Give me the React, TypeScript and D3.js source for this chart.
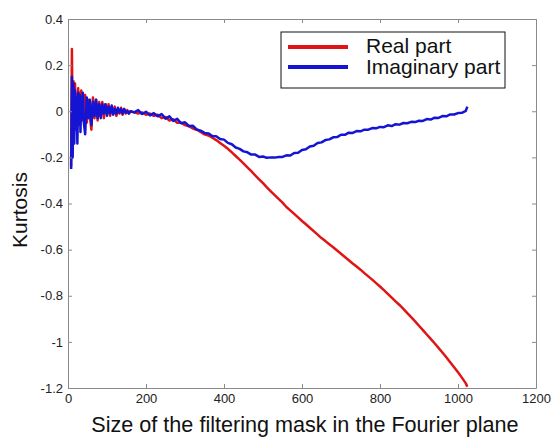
import React from "react";
import * as d3 from "d3";

// mask size (x) shared by both curves
const maskSizes = [
  8, 10, 12, 14, 16, 18, 20, 22, 24, 26, 28, 30, 32, 34, 36, 38, 40,
  44, 48, 52, 56, 60, 64, 68, 72, 76, 80, 84, 88, 92, 96, 100, 104, 108, 112, 116, 120,
  124, 128, 132, 136, 140, 144, 148, 152, 156, 160,
  170, 180, 190, 200, 210, 220, 230, 240, 250, 260, 270, 280, 290, 300, 310, 320, 330, 340,
  350, 360, 370, 380, 390, 400, 410, 420, 430, 440, 450, 460, 470, 480, 490, 500, 510, 520,
  530, 540, 550, 560, 570, 580, 590, 600, 610, 620, 630, 640, 650, 660, 670, 680, 690, 700,
  710, 720, 730, 740, 750, 760, 770, 780, 790, 800, 810, 820, 830, 840, 850, 860, 870, 880,
  890, 900, 910, 920, 930, 940, 950, 960, 970, 980, 990, 1000, 1010, 1020, 1024,
];

const realPart = [
  -0.24, 0.27, -0.1, 0.13, -0.05, 0.12, -0.08, 0.07, -0.03, 0.1, -0.06, 0.08, -0.02, 0.09, -0.04, 0.06, -0.03,
  0.07, -0.05, 0.05, -0.02, -0.08, 0.06, -0.03, 0.05, -0.04, 0.04, -0.02, 0.04, -0.03, 0.03, -0.01, 0.03, -0.02, 0.02, -0.01, 0.02,
  -0.02, 0.01, -0.01, 0.015, -0.015, 0.01, -0.01, 0.005, -0.01, 0.0,
  -0.005, -0.01, -0.005, -0.015, -0.01, -0.02, -0.015, -0.03, -0.025, -0.04, -0.035, -0.05, -0.05, -0.06, -0.065, -0.075, -0.08, -0.09,
  -0.1, -0.105, -0.115, -0.125, -0.138, -0.15, -0.163, -0.178, -0.194, -0.21, -0.226, -0.243, -0.26, -0.278, -0.295, -0.312, -0.33, -0.347,
  -0.364, -0.38, -0.396, -0.415, -0.43, -0.445, -0.46, -0.476, -0.49, -0.505, -0.52, -0.535, -0.55, -0.563, -0.577, -0.59, -0.604, -0.618,
  -0.632, -0.646, -0.66, -0.673, -0.687, -0.702, -0.716, -0.73, -0.745, -0.76, -0.776, -0.792, -0.808, -0.824, -0.84, -0.857, -0.875, -0.893,
  -0.911, -0.93, -0.949, -0.968, -0.987, -1.006, -1.026, -1.046, -1.067, -1.088, -1.11, -1.132, -1.155, -1.18, -1.195,
];

const imagPart = [
  -0.25, 0.15, -0.2, 0.12, -0.14, 0.09, -0.06, 0.06, -0.14, 0.08, -0.05, 0.07, -0.09, 0.06, -0.03, 0.08, -0.04,
  -0.1, 0.06, -0.03, 0.05, -0.06, 0.04, -0.02, 0.05, -0.03, 0.03, -0.03, 0.03, -0.01, 0.03, -0.02, 0.02, -0.01, 0.025, -0.015, 0.01,
  -0.01, 0.015, -0.005, 0.01, -0.01, 0.01, -0.005, 0.0, -0.01, 0.0,
  -0.005, 0.005, -0.012, -0.002, -0.018, -0.008, -0.022, -0.012, -0.032, -0.022, -0.042, -0.033, -0.052, -0.048, -0.064, -0.063, -0.079, -0.084,
  -0.094, -0.096, -0.107, -0.108, -0.12, -0.123, -0.137, -0.143, -0.157, -0.163, -0.174, -0.178, -0.188, -0.188, -0.198, -0.196, -0.202, -0.2,
  -0.201, -0.198, -0.198, -0.191, -0.192, -0.181, -0.18, -0.168, -0.165, -0.153, -0.15, -0.138, -0.135, -0.125, -0.122, -0.113, -0.112, -0.102,
  -0.102, -0.093, -0.094, -0.086, -0.087, -0.08, -0.08, -0.073, -0.074, -0.068, -0.069, -0.061, -0.064, -0.056, -0.058, -0.051, -0.052, -0.046,
  -0.047, -0.041, -0.042, -0.034, -0.036, -0.028, -0.029, -0.021, -0.022, -0.014, -0.014, -0.008, -0.007, 0.002, 0.02,
];

const xTicks = [0, 200, 400, 600, 800, 1000, 1200];
const yTicks = [-1.2, -1, -0.8, -0.6, -0.4, -0.2, 0, 0.2, 0.4];

const seriesNames = ["Real part", "Imaginary part"];
const seriesColors = ["#e01414", "#1414d4"];

const W = 552;
const H = 437;
const left = 68;
const right = 536;
const top = 19;
const bottom = 388;
const font = "'Liberation Sans', Arial, sans-serif";

export default function App() {
  const svgRef = React.useRef<SVGSVGElement>(null);

  const x = d3.scaleLinear().domain([0, 1200]).range([left, right]);
  const y = d3.scaleLinear().domain([-1.2, 0.4]).range([bottom, top]);

  const line = d3
    .line<number>()
    .x((_, i) => x(maskSizes[i]))
    .y((d) => y(d));

  React.useEffect(() => {
    const svg = d3.select(svgRef.current);
    const fmt = (d: any) => String(d);

    svg
      .select<SVGGElement>(".x-axis")
      .attr("transform", `translate(0,${bottom})`)
      .call(d3.axisBottom(x).tickValues(xTicks).tickFormat(fmt).tickSizeInner(-4).tickSizeOuter(0).tickPadding(6));
    svg
      .select<SVGGElement>(".x-top")
      .attr("transform", `translate(0,${top})`)
      .call(d3.axisTop(x).tickValues(xTicks).tickFormat(() => "").tickSizeInner(-4).tickSizeOuter(0));
    svg
      .select<SVGGElement>(".y-axis")
      .attr("transform", `translate(${left},0)`)
      .call(d3.axisLeft(y).tickValues(yTicks).tickFormat(fmt).tickSizeInner(-4).tickSizeOuter(0).tickPadding(5));
    svg
      .select<SVGGElement>(".y-right")
      .attr("transform", `translate(${right},0)`)
      .call(d3.axisRight(y).tickValues(yTicks).tickFormat(() => "").tickSizeInner(-4).tickSizeOuter(0));

    svg.selectAll(".axis path, .axis line").attr("stroke", "#8a8a8a");
    svg
      .selectAll(".axis text")
      .style("font-family", font)
      .style("font-size", "13px")
      .attr("fill", "#222");
  }, []);

  return (
    <svg
      ref={svgRef}
      width={W}
      height={H}
      style={{ position: "absolute", left: 0, top: 0, background: "#fff" }}
    >
      <defs>
        <clipPath id="plot-clip">
          <rect x={left} y={top - 2} width={right - left} height={bottom - top + 4} />
        </clipPath>
      </defs>
      <rect x={0} y={0} width={W} height={H} fill="#fff" />
      <g clipPath="url(#plot-clip)">
        <path d={line(realPart) ?? ""} fill="none" stroke={seriesColors[0]} strokeWidth={2.5} strokeLinejoin="round" />
        <path d={line(imagPart) ?? ""} fill="none" stroke={seriesColors[1]} strokeWidth={2.5} strokeLinejoin="round" />
      </g>
      <g className="axis x-axis" />
      <g className="axis x-top" />
      <g className="axis y-axis" />
      <g className="axis y-right" />

      <g>
        <rect x={281} y={32} width={224} height={56} fill="#fff" stroke="#111" strokeWidth={1} />
        {seriesNames.map((name, i) => (
          <g key={name}>
            <line x1={288} x2={348} y1={47 + i * 20} y2={47 + i * 20} stroke={seriesColors[i]} strokeWidth={4} />
            <text x={366} y={53 + i * 21} fontFamily={font} fontSize={21} fill="#111">
              {name}
            </text>
          </g>
        ))}
      </g>

      <text
        x={305}
        y={432}
        textAnchor="middle"
        fontFamily={font}
        fontSize={21.6}
        fill="#111"
      >
        Size of the filtering mask in the Fourier plane
      </text>
      <text
        transform={`translate(27,210) rotate(-90)`}
        textAnchor="middle"
        fontFamily={font}
        fontSize={21}
        fill="#111"
      >
        Kurtosis
      </text>
    </svg>
  );
}
